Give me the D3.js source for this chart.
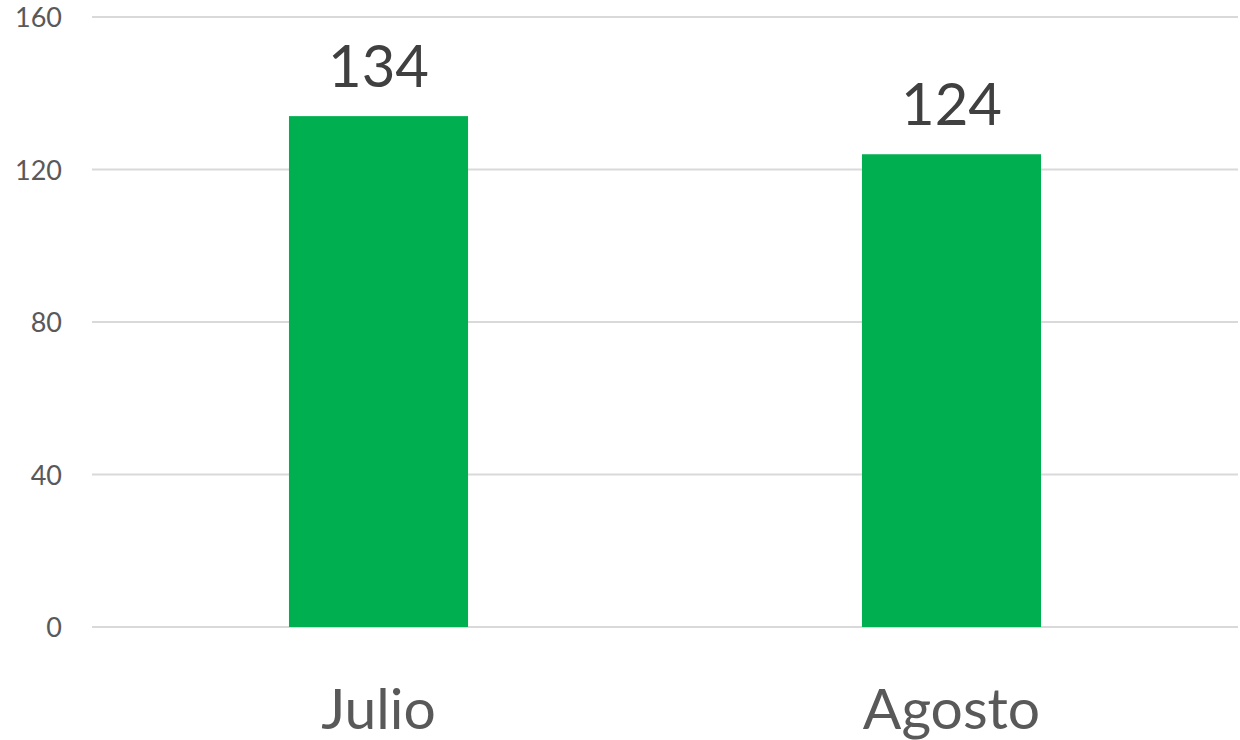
<!DOCTYPE html>
<html>
<head>
<meta charset="utf-8">
<script src="https://cdn.jsdelivr.net/npm/d3@7"></script>
<style>
  body { margin: 0; background: #fff; }
  svg text { font-family: Lato, "Open Sans", sans-serif; }
</style>
</head>
<body>
<svg id="chart"></svg>
<script>
var months = ["Julio", "Agosto"];
var values = [134, 124];
var yTicks = [0, 40, 80, 120, 160];

var width = 1240, height = 740;
var margin = {top: 17, right: 2, bottom: 113, left: 92};

var svg = d3.select("#chart").attr("width", width).attr("height", height);

var x = d3.scaleBand()
  .domain(months)
  .range([margin.left, width - margin.right])
  .paddingInner(0.6875)
  .paddingOuter(0.34375);

var y = d3.scaleLinear()
  .domain([0, 160])
  .range([height - margin.bottom, margin.top]);

// grid lines
svg.append("g").selectAll("line").data(yTicks).enter().append("line")
  .attr("x1", margin.left).attr("x2", width - margin.right)
  .attr("y1", function(d) { return y(d); })
  .attr("y2", function(d) { return y(d); })
  .attr("stroke", "#d9d9d9").attr("stroke-width", 2);

// y labels
svg.append("g").selectAll("text").data(yTicks).enter().append("text")
  .attr("x", 62).attr("y", function(d) { return y(d); })
  .attr("dy", "0.38em")
  .attr("text-anchor", "end")
  .attr("font-size", 27)
  .attr("fill", "#595959")
  .text(function(d) { return d; });

// bars
svg.append("g").selectAll("rect").data(values).enter().append("rect")
  .attr("x", function(d, i) { return x(months[i]); })
  .attr("width", x.bandwidth())
  .attr("y", function(d) { return y(d); })
  .attr("height", function(d) { return y(0) - y(d); })
  .attr("fill", "#00b050");

// value labels
svg.append("g").selectAll("text").data(values).enter().append("text")
  .attr("x", function(d, i) { return x(months[i]) + x.bandwidth() / 2; })
  .attr("y", function(d) { return y(d) - 29; })
  .attr("text-anchor", "middle")
  .attr("font-size", 58)
  .attr("fill", "#404040")
  .text(function(d) { return d; });

// category labels
svg.append("g").selectAll("text").data(months).enter().append("text")
  .attr("x", function(d) { return x(d) + x.bandwidth() / 2; })
  .attr("y", 729)
  .attr("text-anchor", "middle")
  .attr("font-size", 57)
  .attr("fill", "#595959")
  .text(function(d) { return d; });
</script>
</body>
</html>
